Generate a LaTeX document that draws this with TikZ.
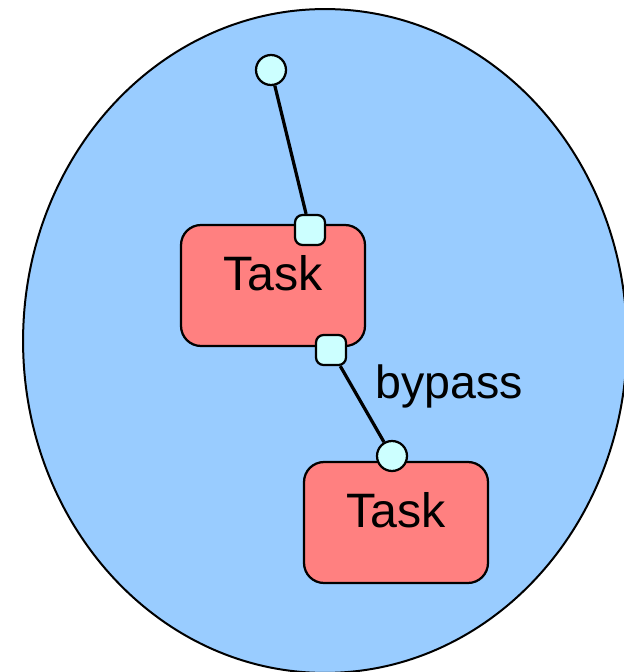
\documentclass[tikz,border=0pt]{standalone}
\usepackage{fontspec}
\setmainfont{Liberation Sans}
\definecolor{poolblue}{HTML}{99CCFF}
\definecolor{taskred}{HTML}{FF8080}
\definecolor{portcyan}{HTML}{CCFFFF}
\tikzset{
  task/.style={draw, line width=0.045cm, fill=taskred, rounded corners=0.4cm,
    minimum width=3.68cm, minimum height=2.42cm, inner sep=0pt,
    text height=0.68cm, text depth=0.5cm, font=\fontsize{27.5}{33}\selectfont},
  inport/.style={draw, circle, line width=0.045cm, fill=portcyan,
    minimum size=0.6cm, inner sep=0pt},
  outport/.style={draw, line width=0.045cm, fill=portcyan, rounded corners=0.15cm,
    minimum size=0.6cm, inner sep=0pt},
  link/.style={line width=0.065cm},
}
\begin{document}
\begin{tikzpicture}[x=0.02cm, y=-0.02cm]
    \useasboundingbox (0,0) rectangle (624,672);
    \begin{scope}
    \clip (0,0) rectangle (624,672);
    \draw [line width=0.04cm, fill=poolblue] (325,341) ellipse [x radius=6.04cm, y radius=6.64cm];
    \end{scope}
    \node [task] (task1) at (273,285.5) {Task};
    \node [task] (task2) at (396,522.5) {Task};
    \node [inport] (start) at (271,70) {};
    \node [outport] (t1in) at (310,230) {};
    \node [outport] (t1out) at (331,350) {};
    \node [inport] (t2in) at (392,456) {};
    \draw [link] (start) -- (t1in);
    \draw [link] (t1out) -- (t2in);
    \node [anchor=base west, inner sep=0pt, font=\fontsize{26.5}{32}\selectfont] (bypass) at (375,398) {bypass};
\end{tikzpicture}
\end{document}
